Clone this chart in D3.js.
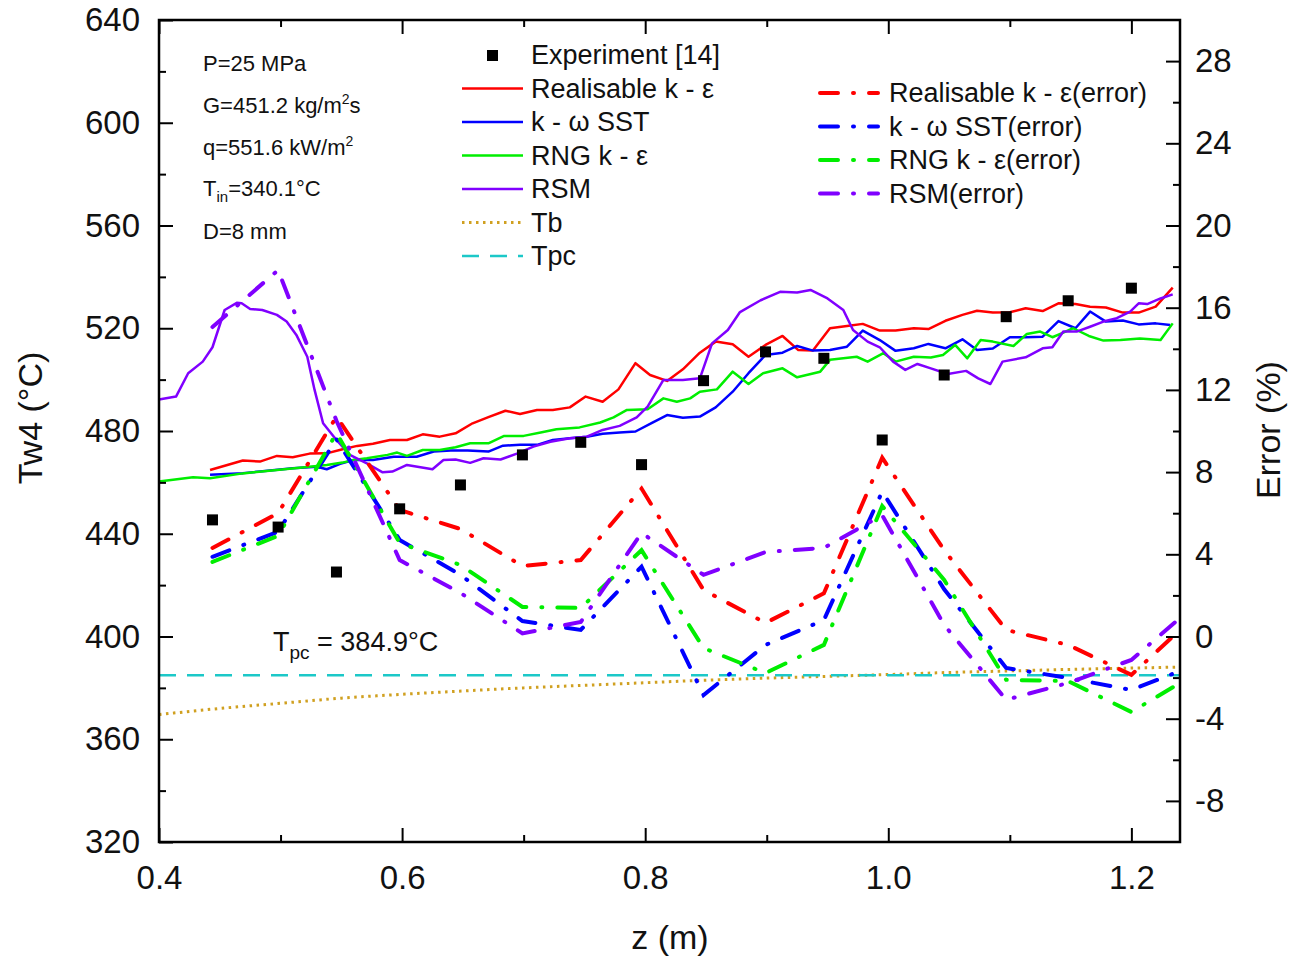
<!DOCTYPE html>
<html>
<head>
<meta charset="utf-8">
<script src="https://cdn.jsdelivr.net/npm/d3@7"></script>
<style>
body { margin: 0; background: #fff; }
text { font-family: "Liberation Sans", Arial, sans-serif; fill: #111; }
</style>
</head>
<body>
<script>
// Chart size
var width = 1298;
var height = 957;

// Experiment points
var expZ = [0.444, 0.498, 0.546, 0.598, 0.648, 0.699, 0.747, 0.797, 0.848, 0.899, 0.947, 0.995, 1.046, 1.097, 1.148, 1.2];
var expT = [445.4, 442.6, 425.1, 449.7, 459.0, 470.7, 475.6, 466.9, 499.6, 510.8, 508.3, 476.5, 501.8, 524.5, 530.7, 535.6];

// CFD wall temperature, Realisable k-e
var realZ = [0.442, 0.469, 0.483, 0.497, 0.510, 0.524, 0.538, 0.551, 0.563, 0.576, 0.590, 0.604, 0.617, 0.631, 0.644, 0.658, 0.671, 0.685, 0.697, 0.711, 0.724, 0.738, 0.751, 0.765, 0.778, 0.792, 0.804, 0.818, 0.831, 0.845, 0.858, 0.872, 0.885, 0.899, 0.913, 0.926, 0.938, 0.952, 0.966, 0.979, 0.993, 1.006, 1.021, 1.033, 1.047, 1.061, 1.073, 1.086, 1.100, 1.113, 1.127, 1.140, 1.154, 1.166, 1.179, 1.193, 1.206, 1.220, 1.234];
var realT = [464.8, 468.5, 468.1, 470.3, 469.8, 471.2, 471.3, 472.9, 474.2, 475.0, 476.5, 476.5, 478.7, 477.8, 479.1, 483.0, 485.4, 487.9, 486.6, 488.2, 488.2, 489.2, 493.4, 491.4, 496.2, 506.4, 501.8, 499.5, 504.0, 510.5, 514.8, 513.8, 508.9, 513.5, 517.0, 511.5, 511.3, 520.0, 520.9, 521.7, 519.1, 519.1, 520.0, 519.7, 522.9, 525.2, 526.8, 526.1, 526.2, 527.8, 526.7, 529.7, 529.4, 528.4, 528.1, 526.1, 526.1, 528.4, 535.8];

// k-w SST
var sstZ = [0.442, 0.469, 0.483, 0.510, 0.530, 0.538, 0.549, 0.560, 0.576, 0.593, 0.612, 0.626, 0.640, 0.654, 0.671, 0.683, 0.697, 0.711, 0.724, 0.738, 0.752, 0.765, 0.779, 0.792, 0.806, 0.818, 0.831, 0.845, 0.858, 0.872, 0.885, 0.899, 0.913, 0.925, 0.938, 0.952, 0.966, 0.979, 0.993, 1.006, 1.021, 1.033, 1.047, 1.061, 1.073, 1.086, 1.100, 1.113, 1.127, 1.140, 1.154, 1.166, 1.179, 1.193, 1.206, 1.220, 1.232];
var sstT = [463.0, 463.6, 464.2, 465.5, 466.1, 465.1, 467.2, 468.7, 468.7, 470.0, 470.0, 472.0, 472.4, 472.4, 472.0, 474.3, 474.6, 474.6, 476.5, 477.2, 477.8, 478.9, 479.4, 479.8, 483.3, 486.2, 485.2, 485.6, 489.2, 495.3, 502.5, 509.6, 510.5, 513.1, 511.3, 511.5, 512.8, 519.1, 515.4, 511.2, 512.2, 513.9, 512.2, 515.7, 511.5, 512.1, 516.5, 516.5, 516.7, 522.8, 520.0, 526.5, 522.6, 523.0, 521.5, 521.9, 521.3];

// RNG k-e
var rngZ = [0.400, 0.428, 0.442, 0.469, 0.497, 0.524, 0.538, 0.551, 0.560, 0.571, 0.588, 0.596, 0.604, 0.617, 0.631, 0.644, 0.656, 0.671, 0.684, 0.700, 0.714, 0.727, 0.746, 0.763, 0.774, 0.785, 0.802, 0.815, 0.826, 0.837, 0.845, 0.859, 0.872, 0.885, 0.897, 0.913, 0.925, 0.944, 0.952, 0.974, 0.983, 0.996, 1.006, 1.021, 1.035, 1.045, 1.055, 1.065, 1.076, 1.086, 1.103, 1.114, 1.125, 1.135, 1.144, 1.152, 1.165, 1.177, 1.191, 1.207, 1.224, 1.234];
var rngT = [460.3, 462.0, 461.6, 463.5, 464.8, 466.1, 466.8, 467.7, 468.7, 469.4, 470.7, 471.6, 470.3, 472.6, 472.6, 473.7, 475.2, 475.2, 478.1, 478.1, 479.4, 480.7, 481.4, 483.3, 485.3, 488.2, 488.5, 492.7, 491.4, 492.7, 495.3, 496.2, 503.1, 498.3, 502.5, 504.4, 500.9, 503.1, 507.7, 508.9, 507.0, 510.3, 507.0, 508.9, 508.6, 509.6, 513.5, 508.3, 515.4, 514.8, 513.1, 517.8, 518.7, 516.5, 518.3, 520.0, 517.0, 515.2, 515.4, 516.0, 515.4, 521.9];

// RSM
var rsmZ = [0.400, 0.414, 0.424, 0.436, 0.444, 0.454, 0.464, 0.468, 0.475, 0.485, 0.497, 0.505, 0.513, 0.522, 0.528, 0.535, 0.546, 0.557, 0.571, 0.584, 0.592, 0.604, 0.625, 0.634, 0.644, 0.656, 0.667, 0.681, 0.695, 0.708, 0.722, 0.738, 0.752, 0.765, 0.779, 0.793, 0.802, 0.815, 0.831, 0.845, 0.855, 0.868, 0.878, 0.895, 0.911, 0.925, 0.936, 0.950, 0.963, 0.971, 0.983, 0.993, 1.004, 1.014, 1.024, 1.035, 1.049, 1.064, 1.074, 1.084, 1.094, 1.113, 1.127, 1.135, 1.144, 1.155, 1.166, 1.177, 1.188, 1.199, 1.206, 1.213, 1.224, 1.234];
var rsmT = [492.3, 493.4, 502.5, 507.0, 512.6, 527.1, 529.9, 529.7, 527.5, 527.1, 525.2, 522.6, 517.4, 508.9, 496.0, 483.0, 476.5, 470.7, 467.4, 463.9, 464.2, 466.8, 465.1, 468.7, 468.9, 467.6, 469.4, 468.9, 471.3, 473.9, 475.8, 477.2, 477.8, 480.4, 482.0, 485.3, 489.5, 499.9, 499.9, 500.5, 514.1, 519.3, 526.3, 530.9, 534.2, 533.9, 534.9, 531.6, 527.1, 519.3, 514.8, 512.6, 507.0, 503.8, 506.1, 504.4, 502.2, 503.4, 500.5, 498.3, 507.0, 508.7, 512.2, 512.6, 518.7, 518.7, 520.6, 522.6, 523.9, 526.5, 529.7, 529.4, 531.6, 533.2];

// Bulk temperature and pseudo-critical temperature
var tbZ = [0.40, 0.45, 0.50, 0.55, 0.60, 0.65, 0.70, 0.75, 0.80, 0.85, 0.90, 0.95, 1.00, 1.05, 1.10, 1.15, 1.20, 1.24];
var tbT = [369.6, 372.0, 374.0, 376.0, 377.5, 378.8, 380.0, 381.0, 382.0, 383.0, 383.8, 384.5, 385.2, 386.0, 386.6, 387.2, 387.7, 388.1];
var tpc = 384.9;

// Relative error (%) at the experiment positions
var errZ = [0.444, 0.498, 0.546, 0.598, 0.648, 0.699, 0.747, 0.797, 0.848, 0.899, 0.947, 0.995, 1.046, 1.097, 1.148, 1.2, 1.24];
var realErr = [4.31, 6.0, 10.7, 6.16, 5.23, 3.43, 3.72, 7.2, 2.26, 0.66, 2.1, 8.7, 4.2, 0.32, -0.41, -1.87, 0.32];
var sstErr = [3.88, 5.1, 9.6, 4.7, 3.0, 0.75, 0.32, 3.4, -2.85, -0.41, 0.8, 7.05, 2.3, -1.53, -2.02, -2.6, -1.68];
var rngErr = [3.63, 4.9, 9.9, 4.55, 3.48, 1.44, 1.39, 4.2, -0.56, -1.78, -0.41, 6.35, 2.75, -2.11, -2.17, -3.67, -2.26];
var rsmErr = [15.06, 17.83, 10.5, 3.72, 2.12, 0.15, 0.71, 5.04, 3.0, 4.11, 4.31, 5.9, 0.56, -3.08, -2.26, -1.14, 0.9];

// Ticks
var xTicks = [0.4, 0.6, 0.8, 1.0, 1.2];
var xMinor = [0.5, 0.7, 0.9, 1.1];
var yTicks = [320, 360, 400, 440, 480, 520, 560, 600, 640];
var yMinor = [340, 380, 420, 460, 500, 540, 580, 620];
var eTicks = [-8, -4, 0, 4, 8, 12, 16, 20, 24, 28];
var eMinor = [-6, -2, 2, 6, 10, 14, 18, 22, 26];

var colRed = '#ff0000', colBlue = '#0000ff', colGreen = '#00ee00', colPurple = '#8000ff';
var colTb = '#d0a020', colTpc = '#1cc8c8';

var svg = d3.select('body')
    .append('svg')
    .attr('width', width)
    .attr('height', height);

// Scales
var xScale = d3.scaleLinear().domain([0.4, 1.24]).range([159, 1180]);
var yScale = d3.scaleLinear().domain([320, 640]).range([842, 20]);
var eScale = d3.scaleLinear().domain([-10, 30]).range([842, 20]);

function zip(a, b) {
    return a.map(function(v, i) { return [v, b[i]]; });
}

var tLine = d3.line()
    .x(function(d) { return xScale(d[0]); })
    .y(function(d) { return yScale(d[1]); });
var eLine = d3.line()
    .x(function(d) { return xScale(d[0]); })
    .y(function(d) { return eScale(d[1]); });

var dashDot = '18,15,1,15';

// Reference temperatures
svg.append('path')
    .datum(zip(tbZ, tbT))
    .attr('d', tLine.curve(d3.curveMonotoneX))
    .attr('fill', 'none')
    .attr('stroke', colTb)
    .attr('stroke-width', 3)
    .attr('stroke-dasharray', '2.5,4.5');
tLine.curve(d3.curveLinear);

svg.append('path')
    .datum([[0.4, tpc], [1.24, tpc]])
    .attr('d', tLine)
    .attr('fill', 'none')
    .attr('stroke', colTpc)
    .attr('stroke-width', 2.5)
    .attr('stroke-dasharray', '17,11');

// Solid CFD lines
var solid = [
    {z: realZ, t: realT, c: colRed},
    {z: sstZ, t: sstT, c: colBlue},
    {z: rngZ, t: rngT, c: colGreen},
    {z: rsmZ, t: rsmT, c: colPurple}
];
solid.forEach(function(s) {
    svg.append('path')
        .datum(zip(s.z, s.t))
        .attr('d', tLine)
        .attr('fill', 'none')
        .attr('stroke', s.c)
        .attr('stroke-width', 2.5)
        .attr('stroke-linejoin', 'round');
});

// Error lines
var errs = [
    {e: realErr, c: colRed},
    {e: sstErr, c: colBlue},
    {e: rngErr, c: colGreen},
    {e: rsmErr, c: colPurple}
];
errs.forEach(function(s) {
    svg.append('path')
        .datum(zip(errZ, s.e))
        .attr('d', eLine)
        .attr('fill', 'none')
        .attr('stroke', s.c)
        .attr('stroke-width', 4)
        .attr('stroke-linecap', 'round')
        .attr('stroke-dasharray', dashDot);
});

// Experiment squares
svg.selectAll('.exp')
    .data(zip(expZ, expT))
    .enter()
    .append('rect')
    .attr('class', 'exp')
    .attr('x', function(d) { return xScale(d[0]) - 5.5; })
    .attr('y', function(d) { return yScale(d[1]) - 5.5; })
    .attr('width', 11)
    .attr('height', 11)
    .attr('fill', '#000');

// Axes with inward ticks
function styleAxis(g) {
    g.select('.domain').remove();
    g.selectAll('.tick line').attr('stroke', '#000').attr('stroke-width', 2);
    g.selectAll('.tick text').attr('font-size', 33).attr('fill', '#111')
        .attr('font-family', '"Liberation Sans", Arial, sans-serif');
}
var plain = function(d) { return String(d); };

svg.append('g').attr('transform', 'translate(0,842)')
    .call(d3.axisBottom(xScale).tickValues(xTicks).tickSize(-14).tickPadding(24).tickFormat(d3.format('.1f')))
    .call(styleAxis);
svg.append('g').attr('transform', 'translate(0,842)')
    .call(d3.axisBottom(xScale).tickValues(xMinor).tickSize(-7).tickFormat(''))
    .call(styleAxis);
svg.append('g').attr('transform', 'translate(0,20)')
    .call(d3.axisTop(xScale).tickValues(xTicks).tickSize(-14).tickFormat(''))
    .call(styleAxis);
svg.append('g').attr('transform', 'translate(0,20)')
    .call(d3.axisTop(xScale).tickValues(xMinor).tickSize(-7).tickFormat(''))
    .call(styleAxis);

svg.append('g').attr('transform', 'translate(159,0)')
    .call(d3.axisLeft(yScale).tickValues(yTicks).tickSize(-14).tickPadding(19).tickFormat(plain))
    .call(styleAxis);
svg.append('g').attr('transform', 'translate(159,0)')
    .call(d3.axisLeft(yScale).tickValues(yMinor).tickSize(-7).tickFormat(''))
    .call(styleAxis);

svg.append('g').attr('transform', 'translate(1180,0)')
    .call(d3.axisRight(eScale).tickValues(eTicks).tickSize(-14).tickPadding(15).tickFormat(plain))
    .call(styleAxis);
svg.append('g').attr('transform', 'translate(1180,0)')
    .call(d3.axisRight(eScale).tickValues(eMinor).tickSize(-7).tickFormat(''))
    .call(styleAxis);

// Frame
svg.append('rect')
    .attr('x', 159).attr('y', 20)
    .attr('width', 1180 - 159).attr('height', 842 - 20)
    .attr('fill', 'none')
    .attr('stroke', '#000')
    .attr('stroke-width', 2.5);

// Axis titles
svg.append('text')
    .attr('x', 670).attr('y', 949)
    .attr('text-anchor', 'middle')
    .attr('font-size', 34)
    .text('z (m)');
svg.append('text')
    .attr('transform', 'translate(42,418) rotate(-90)')
    .attr('text-anchor', 'middle')
    .attr('font-size', 34)
    .text('Tw4 (°C)');
svg.append('text')
    .attr('transform', 'translate(1280,430) rotate(-90)')
    .attr('text-anchor', 'middle')
    .attr('font-size', 34)
    .text('Error (%)');

// Condition notes
var notes = svg.append('g').attr('font-size', 22);
notes.append('text').attr('x', 203).attr('y', 71).text('P=25 MPa');
var gTxt = notes.append('text').attr('x', 203).attr('y', 113);
gTxt.append('tspan').text('G=451.2 kg/m');
gTxt.append('tspan').attr('font-size', 14).attr('dy', -9).text('2');
gTxt.append('tspan').attr('dy', 9).text('s');
var qTxt = notes.append('text').attr('x', 203).attr('y', 155);
qTxt.append('tspan').text('q=551.6 kW/m');
qTxt.append('tspan').attr('font-size', 14).attr('dy', -9).text('2');
var tTxt = notes.append('text').attr('x', 203).attr('y', 196);
tTxt.append('tspan').text('T');
tTxt.append('tspan').attr('font-size', 15).attr('dy', 6).text('in');
tTxt.append('tspan').attr('dy', -6).text('=340.1°C');
notes.append('text').attr('x', 203).attr('y', 239).text('D=8 mm');

var pcTxt = svg.append('text').attr('x', 273).attr('y', 651).attr('font-size', 27);
pcTxt.append('tspan').text('T');
pcTxt.append('tspan').attr('font-size', 19).attr('dy', 8).text('pc');
pcTxt.append('tspan').attr('dy', -8).text(' = 384.9°C');

// Legend, left block
var leg1 = [
    {name: 'Realisable k - ε', c: colRed, dash: null, w: 2.5},
    {name: 'k - ω SST', c: colBlue, dash: null, w: 2.5},
    {name: 'RNG k - ε', c: colGreen, dash: null, w: 2.5},
    {name: 'RSM', c: colPurple, dash: null, w: 2.5},
    {name: 'Tb', c: colTb, dash: '2.5,4.5', w: 3},
    {name: 'Tpc', c: colTpc, dash: '17,11', w: 2.5}
];
svg.append('rect').attr('x', 487).attr('y', 50).attr('width', 11).attr('height', 11).attr('fill', '#000');
svg.append('text').attr('x', 531).attr('y', 64).attr('font-size', 27).text('Experiment [14]');
leg1.forEach(function(d, i) {
    var y = 88.5 + i * 33.5;
    svg.append('line')
        .attr('x1', 462).attr('x2', 523).attr('y1', y).attr('y2', y)
        .attr('stroke', d.c).attr('stroke-width', d.w)
        .attr('stroke-dasharray', d.dash);
    svg.append('text').attr('x', 531).attr('y', y + 9).attr('font-size', 27).text(d.name);
});

// Legend, right block
var leg2 = [
    {name: 'Realisable k - ε(error)', c: colRed},
    {name: 'k - ω SST(error)', c: colBlue},
    {name: 'RNG k - ε(error)', c: colGreen},
    {name: 'RSM(error)', c: colPurple}
];
leg2.forEach(function(d, i) {
    var y = 93 + i * 33.5;
    svg.append('line')
        .attr('x1', 820).attr('x2', 878).attr('y1', y).attr('y2', y)
        .attr('stroke', d.c).attr('stroke-width', 4)
        .attr('stroke-linecap', 'round')
        .attr('stroke-dasharray', dashDot);
    svg.append('text').attr('x', 889).attr('y', y + 9).attr('font-size', 27).text(d.name);
});
</script>
</body>
</html>
